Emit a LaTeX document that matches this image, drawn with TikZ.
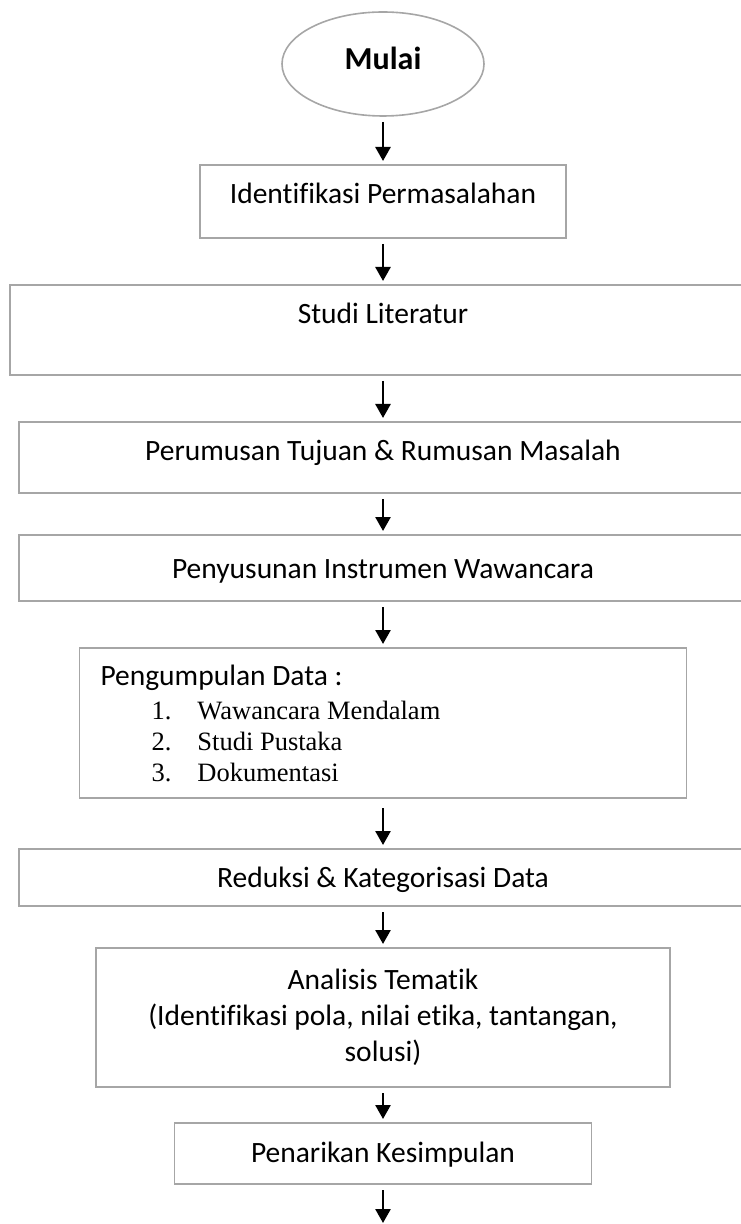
\documentclass[tikz,border=0pt]{standalone}
\usepackage{fontspec}
\setmainfont{Carlito}[Ligatures=NoCommon]
\newfontfamily\timesfont{Liberation Serif}
\usetikzlibrary{shapes.geometric, arrows.meta, positioning}
\definecolor{cBorder}{RGB}{166,166,166}
\newcommand{\listitem}[2]{\hspace*{25.5pt}{\timesfont\fontsize{13.25}{15}\selectfont\makebox[23pt][l]{#1}#2}}
\tikzset{
	startstop/.style={ellipse, draw=cBorder, line width=0.8pt, outer sep=0pt, minimum width=101pt, minimum height=52pt, inner sep=0pt, font=\fontsize{16}{19}\selectfont\bfseries},
	process/.style  ={rectangle, draw=cBorder, line width=0.9pt, outer sep=0pt, inner sep=0pt, align=center},
	oneline/.style  ={text height=10pt, text depth=#1},
	flowarrow/.style={-{Triangle[length=7pt, width=7.5pt]}, line width=1.3pt, shorten <=3pt, shorten >=2pt},
}

\begin{document}
\begin{tikzpicture}[x=0.5pt, y=-0.5pt, font=\fontsize{14.75}{18}\selectfont]
	\useasboundingbox (0,0) rectangle (740,1224);
	\node[startstop, oneline=4.6pt] (m) at (383,64) {Mulai};
	\node[process, oneline=7.8pt, minimum width=183pt, minimum height=36.5pt, below=24.5pt of m] (ip) {Identifikasi Permasalahan};
	\node[process, oneline=16.8pt, minimum width=373pt, minimum height=45pt, below=23.5pt of ip] (sl) {Studi Literatur};
	\node[process, oneline=6.8pt, minimum width=364pt, minimum height=35.5pt, below=23.5pt of sl] (pt) {Perumusan Tujuan \& Rumusan Masalah};
	\node[process, oneline=0pt, minimum width=364pt, minimum height=33pt, below=21pt of pt] (pi) {Penyusunan Instrumen Wawancara};
	\node[process, align=flush left, text width=282.5pt, inner xsep=10.5pt, minimum height=75pt, font=\fontsize{14.75}{15.5}\selectfont, below=23.5pt of pi] (pd)
		{Pengumpulan Data :\\[1.5pt]
		 \listitem{1.}{Wawancara Mendalam}\\
		 \listitem{2.}{Studi Pustaka}\\
		 \listitem{3.}{Dokumentasi}};
	\node[process, oneline=0pt, minimum width=364pt, minimum height=28.5pt, below=25.5pt of pd] (rk) {Reduksi \& Kategorisasi Data};
	\node[process, minimum width=287pt, minimum height=69.5pt, below=21pt of rk] (at) {Analisis Tematik\\(Identifikasi pola, nilai etika, tantangan,\\solusi)};
	\node[process, oneline=0.8pt, minimum width=208.5pt, minimum height=30.5pt, below=18pt of at] (pk) {Penarikan Kesimpulan};
	\coordinate[below=19.5pt of pk] (out);
	\draw[flowarrow] (m) -- (ip);
	\draw[flowarrow] (ip) -- (sl);
	\draw[flowarrow] (sl) -- (pt);
	\draw[flowarrow] (pt) -- (pi);
	\draw[flowarrow] (pi) -- (pd);
	\draw[flowarrow, shorten <=5pt] (pd) -- (rk);
	\draw[flowarrow] (rk) -- (at);
	\draw[flowarrow] (at) -- (pk);
	\draw[flowarrow, shorten >=0pt] (pk) -- (out);
\end{tikzpicture}
\end{document}
